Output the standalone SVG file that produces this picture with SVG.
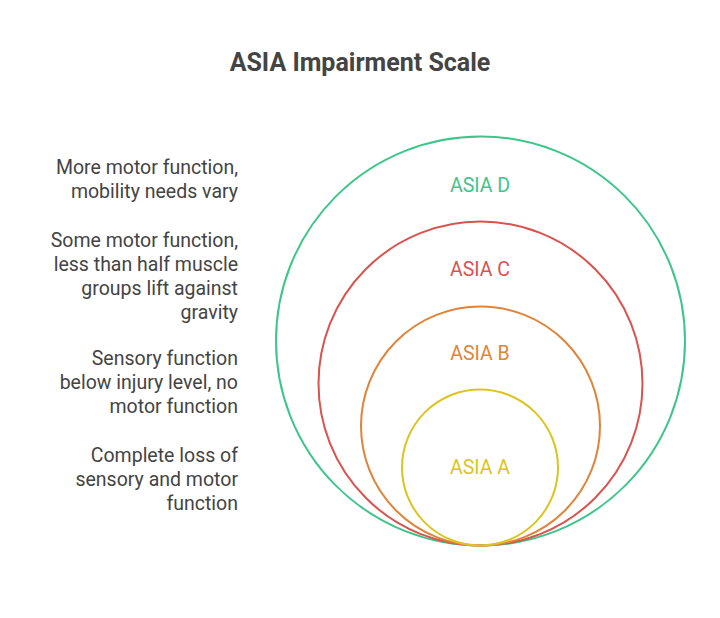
<svg xmlns="http://www.w3.org/2000/svg" width="720" height="618" viewBox="0 0 720 618">
<style>
text{font-family:Roboto,"Liberation Sans",sans-serif}
.t{font-size:25px;font-weight:bold;fill:#444;text-anchor:middle}
.d{font-size:19.5px;fill:#444;text-anchor:end}
.l{font-size:19.5px;text-anchor:middle}
circle{fill:none;stroke-width:2}
</style>
<rect width="720" height="618" fill="#fff"/>
<text class="t" x="360" y="71">ASIA Impairment Scale</text>
<g id="asia-d"><circle cx="480.5" cy="341" r="204.5" stroke="#3dc68a"/><text class="l" x="480" y="192" fill="#3dc68a">ASIA D</text></g>
<g id="asia-c"><circle cx="480.5" cy="383.5" r="162" stroke="#d9534f"/><text class="l" x="480" y="276" fill="#d9534f">ASIA C</text></g>
<g id="asia-b"><circle cx="480.5" cy="426" r="119.5" stroke="#e0843a"/><text class="l" x="480" y="360" fill="#e0843a">ASIA B</text></g>
<g id="asia-a"><circle cx="480" cy="467.5" r="78" stroke="#dcc41e"/><text class="l" x="480" y="474" fill="#dcc41e">ASIA A</text></g>
<g id="desc">
<text class="d" x="238" y="174">More motor function,</text>
<text class="d" x="238" y="198">mobility needs vary</text>
<text class="d" x="238" y="247">Some motor function,</text>
<text class="d" x="238" y="271">less than half muscle</text>
<text class="d" x="238" y="295">groups lift against</text>
<text class="d" x="238" y="319">gravity</text>
<text class="d" x="238" y="365">Sensory function</text>
<text class="d" x="238" y="389">below injury level, no</text>
<text class="d" x="238" y="413">motor function</text>
<text class="d" x="238" y="462">Complete loss of</text>
<text class="d" x="238" y="486">sensory and motor</text>
<text class="d" x="238" y="510">function</text>
</g>
</svg>
